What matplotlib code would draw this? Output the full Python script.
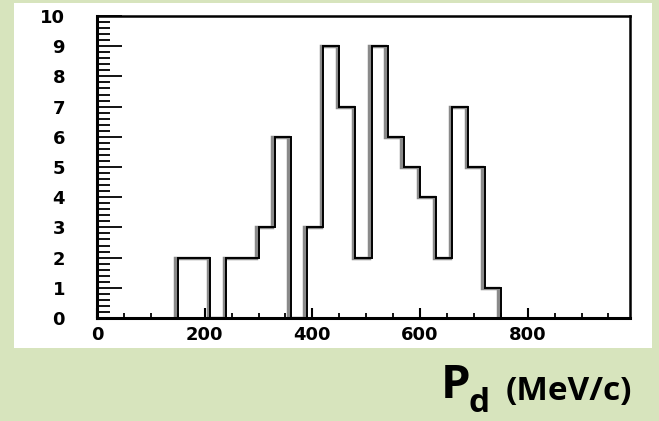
import matplotlib
matplotlib.use('Agg')
import matplotlib.pyplot as plt
import matplotlib.transforms as mtransforms
from matplotlib.patches import Rectangle
from matplotlib.ticker import MultipleLocator
import numpy as np

# histogram data (P_d, MeV/c), bins of 30 starting at 150
bin_start = 150
bin_width = 30
counts = [2, 2, 0, 2, 2, 3, 6, 0, 3, 9, 7, 2, 9, 6, 5, 4, 2, 7, 5, 1]
x_ticks = [0, 200, 400, 600, 800]
y_ticks = list(range(0, 11))

edges = bin_start + bin_width * np.arange(len(counts) + 1)

W, H = 659, 421
fig = plt.figure(figsize=(W / 100, H / 100), dpi=100)
fig.patch.set_facecolor('#d7e4bd')

# white panel behind the plot
fig.patches.append(Rectangle((14 / W, (H - 348) / H), (652 - 14) / W, (348 - 3) / H,
                             transform=fig.transFigure, facecolor='white',
                             edgecolor='none', zorder=0))

ax = fig.add_axes([97 / W, (H - 318) / H, (630 - 97) / W, (318 - 16) / H])
ax.set_zorder(2)
ax.set_facecolor('white')

# grey shadow a few pixels to the left, then the black line
shadow = mtransforms.offset_copy(ax.transData, fig=fig, x=-2.5, y=0, units='dots')
ax.stairs(counts, edges, color='#8a8a8a', linewidth=2.5, transform=shadow, zorder=2)
ax.stairs(counts, edges, color='black', linewidth=1.4, zorder=3)

ax.set_xlim(0, 990)
ax.set_ylim(0, 10)

ax.set_xticks(x_ticks)
ax.set_yticks(y_ticks)
ax.xaxis.set_minor_locator(MultipleLocator(50))
ax.yaxis.set_minor_locator(MultipleLocator(0.2))

ax.tick_params(axis='y', which='major', direction='in', length=18, width=1.3,
               pad=23, labelsize=13)
ax.tick_params(axis='y', which='minor', direction='in', length=9, width=1.3)
ax.tick_params(axis='x', which='major', direction='in', length=7, width=1.5,
               pad=6, labelsize=13)
ax.tick_params(axis='x', which='minor', direction='in', length=3.5, width=1.3)
for lab in ax.get_xticklabels() + ax.get_yticklabels():
    lab.set_fontweight('bold')
    lab.set_family('DejaVu Sans')

for side in ['left', 'bottom']:
    ax.spines[side].set_linewidth(2.2)
for side in ['top', 'right']:
    ax.spines[side].set_linewidth(1.8)

# axis title at the bottom right
fig.text(441 / W, (H - 398) / H, 'P', fontsize=34, fontweight='bold',
         family='Open Sans', ha='left', va='baseline')
fig.text(469 / W, (H - 412) / H, 'd', fontsize=24, fontweight='bold',
         family='Open Sans', ha='left', va='baseline')
fig.text(506 / W, (H - 400) / H, '(MeV/c)', fontsize=24, fontweight='bold',
         family='Open Sans', ha='left', va='baseline')

fig.savefig('out.png', dpi=100, facecolor=fig.get_facecolor())
